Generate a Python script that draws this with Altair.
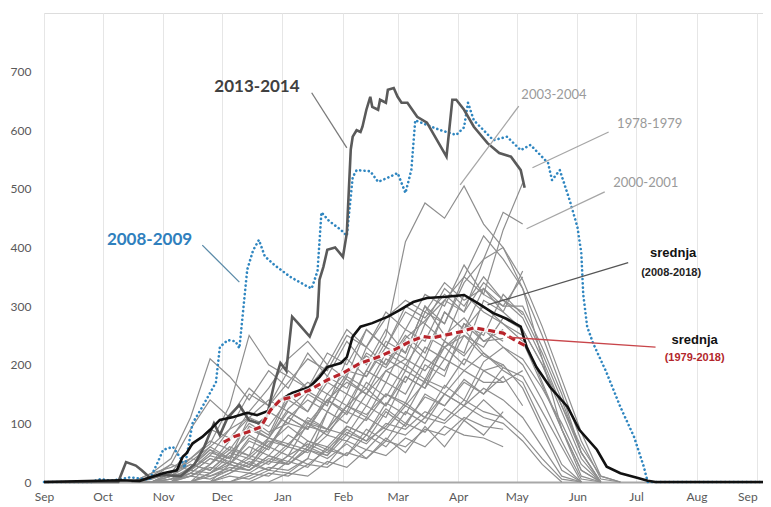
import altair as alt
import pandas as pd

# ---------------- axis definitions ----------------
MONTH_DAYS = [0, 30, 61, 91, 122, 153, 181, 212, 242, 273, 303, 334, 365]
MONTH_LABELS = ["Sep", "Oct", "Nov", "Dec", "Jan", "Feb", "Mar", "Apr", "May", "Jun", "Jul", "Aug", "Sep"]
Y_TICKS = [0, 100, 200, 300, 400, 500, 600, 700]

# ---------------- gray seasons (values every 10 days from Oct 16) ----------------
GRID_DAYS = [45, 55, 65, 75, 85, 95, 105, 115, 125, 135, 145, 155, 165, 175, 185,
             195, 205, 215, 225, 235, 245, 255, 265, 275, 285, 295]
N = None
GRAY = {
    "2003-2004": [0, 0, 0, 15, 40, 30, 70, 55, 110, 90, 140, 120, 190, 250, 410, 476, 450, 505, 440, 400, 330, 210, 90, 10, 0],
    "1978-1979": [N, N, 0, 10, 30, 60, 45, 120, 100, 150, 130, 210, 180, 240, 220, 300, 270, 350, 320, 430, 510],
    "2000-2001": [0, 0, 5, 25, 60, 40, 90, 75, 140, 120, 180, 160, 220, 200, 260, 240, 310, 290, 380, 460, 440],
    "1979-1980": [0, 5, 30, 90, 140, 110, 160, 130, 190, 160, 220, 200, 260, 230, 290, 270, 330, 300, 350, 310, 290, 220, 140, 50, 0],
    "1980-1981": [0, 0, 10, 40, 70, 55, 100, 80, 150, 120, 170, 150, 230, 200, 250, 220, 290, 260, 300, 270, 250, 170, 90, 20, 0],
    "1981-1982": [N, 0, 0, 0, 15, 30, 20, 45, 35, 70, 55, 90, 70, 120, 95, 150, 130, 170, 150, 180, 130],
    "1982-1983": [0, 15, 40, 110, 210, 180, 140, 190, 160, 220, 180, 240, 200, 260, 220, 300, 250, 280, 240, 260],
    "1983-1984": [0, 0, 0, 0, 0, 30, 60, 45, 80, 60, 120, 100, 150, 130, 190, 170, 230, 200, 260, 230, 200, 140, 70, 5, 0],
    "1984-1985": [0, 0, 10, 30, 20, 50, 80, 60, 110, 90, 150, 130, 190, 170, 240, 210, 290, 260, 330, 300, 300, 230, 150, 50, 0],
    "1985-1986": [0, 0, 0, 20, 50, 40, 110, 140, 120, 100, 90, 130, 160, 130, 180, 160, 210, 190, 220, 190, 170, 100, 30, 0],
    "1986-1987": [N, N, 0, 0, 0, 15, 30, 20, 45, 30, 55, 45, 80, 60, 100, 85, 125, 105, 140, 110],
    "1987-1988": [0, 0, 0, 0, 30, 70, 120, 160, 210, 240, 200, 260, 230, 290, 260, 320, 300, 370, 320, 300, 350],
    "1988-1989": [0, 0, 0, 25, 55, 40, 90, 75, 120, 100, 140, 115, 170, 145, 200, 175, 240, 215, 260, 240],
    "1989-1990": [0, 0, 0, 0, 0, 0, 15, 10, 35, 25, 60, 45, 90, 70, 120, 100, 150, 130, 190, 170, 190],
    "1990-1991": [0, 0, 15, 60, 90, 75, 110, 85, 100, 90, 140, 170, 150, 210, 190, 270, 240, 320, 290, 270, 240, 165, 90, 20, 0],
    "1991-1992": [0, 0, 0, 0, 15, 35, 25, 60, 45, 100, 80, 130, 110, 170, 150, 210, 190, 250, 230, 280, 260, 200, 120, 40, 0],
    "1992-1993": [0, 5, 15, 30, 20, 50, 40, 70, 60, 110, 90, 150, 130, 190, 170, 230, 210, 270, 240, 245],
    "1993-1994": [0, 0, 0, 0, 0, 0, 0, 15, 10, 30, 25, 50, 40, 70, 60, 90, 80, 110, 95, 90],
    "1994-1995": [0, 0, 0, 15, 40, 30, 75, 60, 110, 140, 120, 180, 160, 220, 200, 250, 230, 260, 220, 195],
    "1995-1996": [0, 0, 15, 35, 60, 90, 110, 95, 140, 170, 150, 190, 180, 230, 210, 290, 270, 340, 380, 400, 345, 265, 175, 85, 10, 0],
    "1996-1997": [0, 0, 0, 0, 10, 20, 15, 35, 30, 55, 45, 95, 80, 135, 115, 175, 160, 210, 190, 200, 160, 90, 20, 0],
    "1997-1998": [0, 15, 25, 40, 30, 55, 45, 75, 65, 95, 85, 120, 105, 150, 135, 200, 180, 270, 250, 320, 285],
    "1998-1999": [0, 0, 0, 0, 15, 35, 25, 75, 60, 105, 90, 130, 115, 150, 130, 170, 150, 190, 170, 170],
    "1999-2000": [N, 0, 0, 0, 0, 0, 0, 0, 15, 10, 35, 25, 55, 45, 75, 60, 95, 80, 75, 60],
    "2001-2002": [0, 0, 0, 10, 25, 20, 45, 35, 65, 55, 90, 80, 130, 110, 180, 160, 240, 220, 310, 290, 360],
    "2002-2003": [0, 0, 10, 20, 15, 45, 30, 65, 95, 70, 60, 95, 80, 125, 100, 145, 130, 175, 150, 195, 180, 120, 60, 0],
    "2004-2005": [0, 0, 0, 0, 0, 15, 35, 20, 45, 65, 50, 85, 70, 95, 135, 110, 165, 140, 205, 230, 210, 160, 100, 30, 0],
    "2005-2006": [0, 0, 0, 25, 55, 30, 20, 45, 30, 55, 40, 65, 40, 75, 50, 95, 60, 105, 80, 120],
    "2006-2007": [0, 0, 15, 40, 65, 130, 250, 200, 180, 160, 200, 175, 150, 190, 210, 190, 230, 250, 215, 200],
    "2009-2010": [0, 0, 0, 20, 45, 35, 95, 75, 125, 155, 135, 185, 215, 195, 245, 275, 310, 350, 420, 380, 330, 250, 160, 70, 5, 0],
    "2010-2011": [0, 0, 5, 10, 5, 20, 40, 30, 60, 50, 80, 70, 110, 90, 130, 110, 150, 130, 160, 140, 110, 60, 10, 0],
    "2011-2012": [0, 0, 0, 0, 0, 0, 10, 25, 20, 40, 120, 180, 260, 230, 300, 280, 320, 290, 340, 310, 280, 210, 130, 50, 0],
    "2012-2013": [0, 10, 30, 20, 45, 90, 150, 130, 170, 210, 190, 250, 230, 280, 310, 290, 340, 310, 330, 290, 260, 200, 130, 60, 10, 0],
    "2014-2015": [0, 0, 0, 0, 0, 10, 5, 20, 15, 40, 30, 70, 55, 90, 80, 110, 100, 130, 110, 100, 70, 30, 0],
    "2015-2016": [0, 0, 5, 15, 10, 25, 20, 40, 30, 60, 45, 80, 65, 100, 90, 120, 105, 140, 120, 110, 80, 40, 5, 0],
}

# ---------------- highlighted seasons ----------------
S0809_DAYS = [0, 24, 29, 34, 44, 54, 58, 61, 66, 70, 72, 76, 81, 88, 90, 94, 98, 100, 104, 107, 110, 113, 118,
              126, 134, 137, 140, 142, 146, 152, 155, 158, 160, 167, 171, 176, 181, 185, 188, 190, 196, 203,
              211, 215, 217, 220, 230, 237, 244, 249, 258, 260, 264, 269, 273, 275, 276, 278, 281, 288, 295,
              302, 307, 309, 368]
S0809_VALS = [0, 0, 5, 2, 8, 4, 32, 55, 60, 40, 24, 100, 128, 170, 230, 242, 240, 228, 362, 395, 413, 385, 370,
              350, 335, 330, 360, 460, 445, 430, 420, 520, 532, 530, 512, 519, 527, 493, 532, 617, 609, 600,
              592, 605, 647, 617, 583, 589, 566, 575, 544, 515, 532, 481, 435, 391, 320, 265, 237, 186, 128,
              77, 26, 0, 0]

S1314_DAYS = [0, 38, 40, 42, 47, 50, 54, 61, 70, 77, 82, 87, 90, 94, 100, 105, 110, 114, 118, 121, 124, 127,
              130, 136, 140, 141, 143, 145, 149, 153, 155, 157, 158, 160, 162, 163, 165, 167, 168, 171, 172,
              175, 176, 179, 181, 183, 186, 191, 196, 201, 206, 209, 211, 215, 220, 227, 233, 239, 244, 246]
S1314_VALS = [0, 0, 17, 34, 28, 20, 8, 12, 10, 30, 60, 100, 80, 110, 131, 105, 100, 111, 170, 203, 190, 282,
              271, 248, 282, 345, 367, 396, 400, 384, 425, 567, 589, 600, 597, 606, 635, 657, 640, 635, 652,
              647, 669, 672, 657, 647, 647, 623, 613, 584, 555, 652, 652, 635, 606, 578, 561, 555, 532, 502]

MEAN0818_DAYS = [0, 39, 49, 61, 68, 71, 73, 76, 81, 85, 90, 97, 104, 109, 116, 121, 127, 136, 141, 145, 152,
                 155, 158, 162, 168, 176, 182, 189, 196, 206, 215, 222, 230, 237, 244, 247, 252, 259, 268,
                 274, 283, 288, 295, 304, 309, 313, 368]
MEAN0818_VALS = [0, 3, 2, 15, 20, 43, 49, 66, 77, 89, 106, 111, 118, 114, 123, 140, 152, 162, 179, 196, 203,
                 213, 248, 265, 271, 282, 293, 307, 314, 316, 319, 305, 288, 278, 265, 230, 196, 162, 128,
                 89, 55, 26, 15, 7, 2, 0, 0]

MEAN7918_DAYS = [92, 97, 104, 111, 116, 121, 127, 136, 145, 153, 162, 171, 179, 187, 194, 199, 206, 213, 220,
                 227, 235, 242, 246]
MEAN7918_VALS = [68, 77, 85, 94, 123, 140, 145, 157, 174, 186, 203, 213, 225, 239, 248, 246, 251, 256, 263,
                 259, 254, 240, 233]

# ---------------- annotations ----------------
LABEL_TEXT = ["2013-2014", "2008-2009", "2003-2004", "1978-1979", "2000-2001",
              "srednja", "(2008-2018)", "srednja", "(1979-2018)"]
LABEL_DAY = [109, 54, 261, 310, 308, 322, 321, 333, 333]
LABEL_VAL = [674, 413, 660, 611, 510, 391, 357, 242, 212]
LABEL_GROUP = ["big", "big", "small", "small", "small", "mean", "meansub", "mean", "meansub"]
LABEL_COLOR = ["#404040", "#2f80bd", "#9a9a9a", "#9a9a9a", "#9a9a9a", "#111111", "#222222", "#111111", "#b3262b"]

PTR_DAY = [137, 81, 243, 289, 287, 299, 313]
PTR_VAL = [664, 404, 641, 597, 495, 374, 230]
PTR_DAY2 = [155, 100, 213, 250, 247, 227, 237]
PTR_VAL2 = [570, 341, 507, 536, 432, 302, 247]
PTR_COLOR = ["#7a7a7a", "#5a8aa8", "#a6a6a6", "#a6a6a6", "#a6a6a6", "#555555", "#c8454a"]

# ---------------- build tables ----------------
rows = []
for season, vals in GRAY.items():
    for d, v in zip(GRID_DAYS, vals):
        if v is not None:
            rows.append({"season": season, "day": d, "value": v})
gray_df = pd.DataFrame(rows)

blue_df = pd.DataFrame({"day": S0809_DAYS, "value": S0809_VALS})
dark_df = pd.DataFrame({"day": S1314_DAYS, "value": S1314_VALS})
m1_df = pd.DataFrame({"day": MEAN0818_DAYS, "value": MEAN0818_VALS})
m2_df = pd.DataFrame({"day": MEAN7918_DAYS, "value": MEAN7918_VALS})
lab_df = pd.DataFrame({"text": LABEL_TEXT, "day": LABEL_DAY, "value": LABEL_VAL,
                       "group": LABEL_GROUP, "color": LABEL_COLOR})
ptr_df = pd.DataFrame({"day": PTR_DAY, "value": PTR_VAL, "day2": PTR_DAY2,
                       "value2": PTR_VAL2, "color": PTR_COLOR})

label_expr = ("[" + ",".join("'%s'" % m for m in MONTH_LABELS) + "][indexof(["
              + ",".join(str(d) for d in MONTH_DAYS) + "], datum.value)]")

X = alt.X("day:Q",
          scale=alt.Scale(domain=[0, 368], nice=False, zero=False),
          axis=alt.Axis(values=MONTH_DAYS, labelExpr=label_expr, title=None, grid=True,
                        gridColor="#e6e6e6", gridWidth=1, ticks=False, domainColor="#a8a8a8",
                        domainWidth=2, labelColor="#595959", labelFontSize=12, labelFont="Lato",
                        labelPadding=9, labelFlush=False, labelOverlap=False,
                        labelAlign={"condition": {"test": "datum.value >= 365", "value": "right"},
                                    "value": "center"}))
Y = alt.Y("value:Q",
          scale=alt.Scale(domain=[0, 800], nice=False),
          axis=alt.Axis(values=Y_TICKS, title=None, grid=False, ticks=False, domain=False,
                        labelColor="#595959", labelFontSize=12, labelFont="Lato", labelPadding=13))

gray = alt.Chart(gray_df).mark_line(color="#8e8e8e", strokeWidth=1.2).encode(
    x=X, y=Y, detail="season:N", order="day:Q")
blue = alt.Chart(blue_df).mark_line(color="#2f86c0", strokeWidth=2.6, strokeDash=[0.1, 4.2],
                                    strokeCap="round").encode(x=X, y=Y, order="day:Q")
dark = alt.Chart(dark_df).mark_line(color="#5a5a5a", strokeWidth=2.6).encode(x=X, y=Y, order="day:Q")
mean1 = alt.Chart(m1_df).mark_line(color="#111111", strokeWidth=2.6).encode(x=X, y=Y, order="day:Q")
halo = alt.Chart(m2_df).mark_line(color="#ffffff", strokeWidth=5, opacity=0.8).encode(x=X, y=Y, order="day:Q")
mean2 = alt.Chart(m2_df).mark_line(color="#b8242b", strokeWidth=3.2, strokeDash=[7, 4]).encode(
    x=X, y=Y, order="day:Q")

ptr = alt.Chart(ptr_df).mark_rule(strokeWidth=1.3).encode(
    x=X, y=Y, x2="day2:Q", y2="value2:Q", color=alt.Color("color:N", scale=None))

def text_layer(group, font, size, weight):
    return alt.Chart(lab_df).transform_filter(alt.datum.group == group).mark_text(
        font=font, fontSize=size, fontWeight=weight, align="center", baseline="middle").encode(
        x=X, y=Y, text="text:N", color=alt.Color("color:N", scale=None))

t_big = text_layer("big", "Lato", 17, "bold")
t_small = text_layer("small", "Lato", 13, "normal")
t_mean = text_layer("mean", "Liberation Sans", 13, "bold")
t_sub = text_layer("meansub", "Liberation Sans", 11, "bold")

chart = alt.layer(gray, blue, dark, mean1, halo, mean2, ptr, t_big, t_small, t_mean, t_sub).properties(
    width=719, height=469,
    autosize=alt.AutoSizeParams(type="none"),
    padding={"left": 36, "top": 5, "right": 0, "bottom": 26},
).configure_view(stroke="#c4c4c4", strokeWidth=1.2).configure(background="white")

chart.save("out.html", embed_options={"renderer": "svg", "actions": False})
